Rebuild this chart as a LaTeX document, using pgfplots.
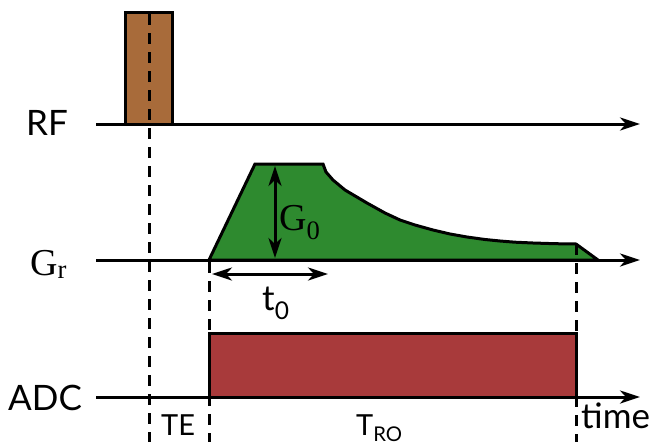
\documentclass[border=0pt]{standalone}
\usepackage{pgfplots}
\pgfplotsset{compat=1.18}
\usepackage{fontspec}
\setmainfont{Lato}
\newfontfamily\seriffont{Liberation Serif}
\usetikzlibrary{arrows.meta}
\definecolor{rfbrown}{HTML}{A86B3A}
\definecolor{grgreen}{HTML}{2E8A2F}
\definecolor{adcred}{HTML}{A83A3B}
\tikzset{
  lbl/.style={font=\fontsize{35}{40}\selectfont, inner sep=0pt, anchor=base west},
  glbl/.style={font=\fontsize{38}{42}\seriffont, inner sep=0pt, anchor=base west},
  slbl/.style={font=\fontsize{29}{34}\selectfont, inner sep=0pt, anchor=base west},
}
\begin{document}
\begin{tikzpicture}
\begin{axis}[
  scale only axis, width=653pt, height=447pt,
  xmin=0, xmax=653, ymin=0, ymax=447, y dir=reverse,
  hide axis, clip=false,
  every axis plot/.append style={line width=3pt, line join=miter},
]
% RF pulse
\addplot[draw=black, fill=rfbrown] coordinates {(125,124) (125,12) (172,12) (172,124)} -- cycle;
% readout gradient: ramp, plateau, decay, ramp down
\addplot[draw=black, fill=grgreen] coordinates {
  (209,260) (255,164) (323,164) (326,172) (333,180) (345,190) (367,203) (385,213)
  (400,220) (415,225) (433,230) (450,234) (467,237) (485,239.5) (500,241)
  (515,242.2) (533,243) (555,243.7) (576,244) (598,260)} -- cycle;
% ADC window
\addplot[draw=black, fill=adcred] coordinates {(209,397) (209,333) (576,333) (576,397)} -- cycle;
% time axes
\addplot[-{Stealth[length=20pt,width=13pt,inset=6pt]}] coordinates {(96,124) (640,124)};
\addplot[-{Stealth[length=20pt,width=13pt,inset=6pt]}] coordinates {(96,260) (640,260)};
\addplot[-{Stealth[length=20pt,width=13pt,inset=6pt]}] coordinates {(96,397) (640,397)};
% timing markers
\addplot[dash pattern=on 11pt off 8pt] coordinates {(149,14) (149,442)};
\addplot[dash pattern=on 11pt off 8pt] coordinates {(209,262) (209,442)};
\addplot[dash pattern=on 11pt off 8pt] coordinates {(576,244) (576,442)};
% amplitude and duration annotations
\addplot[{Stealth[length=20pt,width=13pt,inset=6pt]}-{Stealth[length=20pt,width=13pt,inset=6pt]}] coordinates {(275,166) (275,258)};
\addplot[{Stealth[length=20pt,width=13pt,inset=6pt]}-{Stealth[length=20pt,width=13pt,inset=6pt]}] coordinates {(212,274) (328,274)};
% labels
\node[lbl] at (axis cs:26,135) {RF};
\node[glbl] at (axis cs:30,275) {G\textsubscript{r}};
\node[lbl] at (axis cs:8,410) {ADC};
\node[glbl] at (axis cs:279,230) {G\textsubscript{0}};
\node[lbl] at (axis cs:262,310) {t\textsubscript{0}};
\node[slbl] at (axis cs:161,435) {TE};
\node[slbl] at (axis cs:356,435) {T\textsubscript{RO}};
\node[lbl] at (axis cs:581,428) {time};
\end{axis}
\pgfresetboundingbox
\useasboundingbox (0,0) rectangle (653pt,447pt);
\end{tikzpicture}
\end{document}
